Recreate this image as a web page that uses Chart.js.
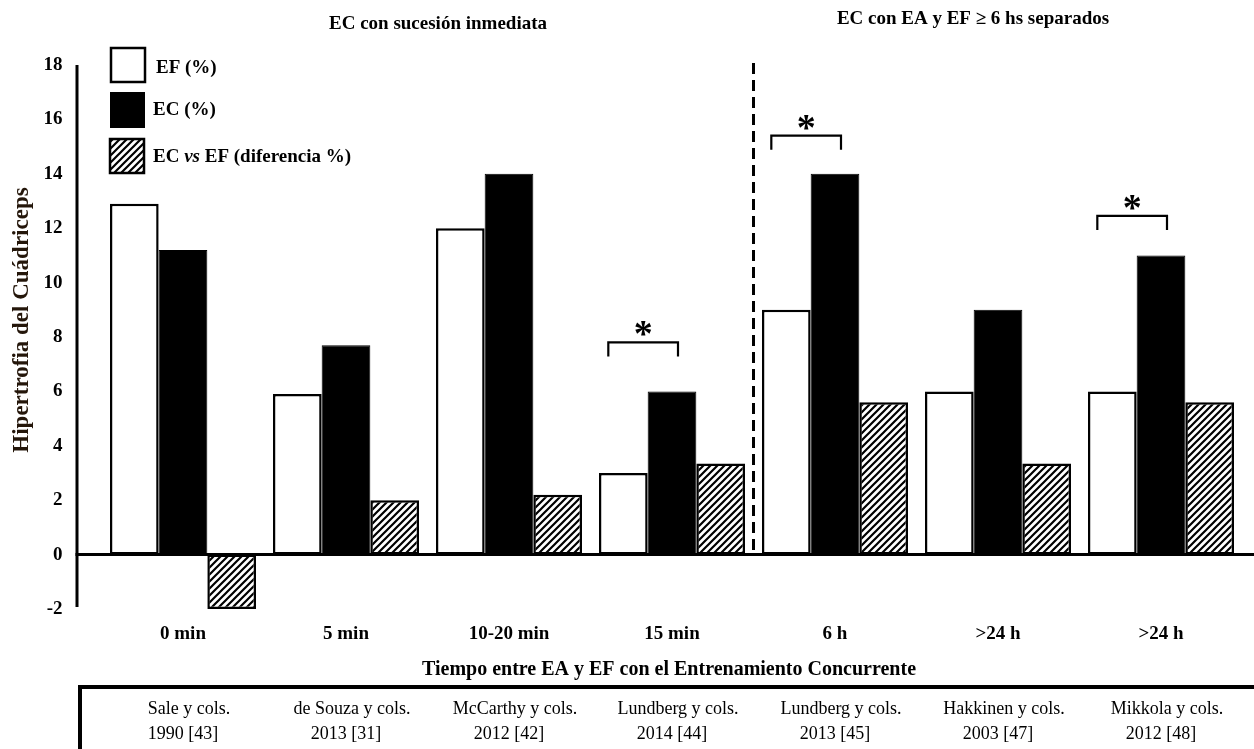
<!DOCTYPE html>
<html>
<head>
<meta charset="utf-8">
<script src="https://cdn.jsdelivr.net/npm/chart.js@4.4.0/dist/chart.umd.min.js"></script>
<style>
  body { margin: 0; background: #fff; }
</style>
</head>
<body>
<canvas id="chart" width="1254" height="749"></canvas>
<script>
  // datos
  const categories = ['0 min', '5 min', '10-20 min', '15 min', '6 h', '>24 h', '>24 h'];
  const efValues = [12.9, 5.9, 12.0, 3.0, 9.0, 6.0, 6.0];
  const ecValues = [11.2, 7.7, 14.0, 6.0, 14.0, 9.0, 11.0];
  const diffValues = [-2.0, 2.0, 2.2, 3.35, 5.6, 3.35, 5.6];
  const bracketLevels = [null, null, null, 7.8, 15.4, null, 12.45];
  const studies = ['Sale y cols.', 'de Souza y cols.', 'McCarthy y cols.', 'Lundberg y cols.', 'Lundberg y cols.', 'Hakkinen y cols.', 'Mikkola y cols.'];
  const studyYears = ['1990 [43]', '2013 [31]', '2012 [42]', '2014 [44]', '2013 [45]', '2003 [47]', '2012 [48]'];
  const yMin = -2, yMax = 18, yStep = 2;

  const FONT = '"Liberation Serif", "Times New Roman", serif';
  Chart.defaults.font.family = FONT;
  Chart.defaults.color = '#000';

  // patron de rayas diagonales
  function makeHatch() {
      const p = document.createElement('canvas');
      p.width = 7; p.height = 7;
      const g = p.getContext('2d');
      g.fillStyle = '#fff';
      g.fillRect(0, 0, 7, 7);
      g.strokeStyle = '#000';
      g.lineWidth = 2.2;
      g.beginPath();
      g.moveTo(-2, 9); g.lineTo(9, -2);
      g.moveTo(-6, 6); g.lineTo(6, -6);
      g.moveTo(1, 13); g.lineTo(13, 1);
      g.stroke();
      return g.createPattern(p, 'repeat');
  }
  const hatch = makeHatch();

  const decor = {
      id: 'decor',
      afterDatasetsDraw(chart) {
          const ctx = chart.ctx;
          const area = chart.chartArea;
          const xs = chart.scales.x, ys = chart.scales.y;
          const axisX = area.left - 24.5;
          const y0 = ys.getPixelForValue(0);
          ctx.save();
          ctx.strokeStyle = '#000';

          // eje y
          ctx.lineWidth = 3;
          ctx.beginPath();
          ctx.moveTo(axisX, ys.getPixelForValue(yMax));
          ctx.lineTo(axisX, ys.getPixelForValue(yMin) - 2);
          ctx.stroke();

          // linea del cero
          ctx.beginPath();
          ctx.moveTo(axisX - 1.5, y0);
          ctx.lineTo(chart.width, y0);
          ctx.stroke();

          // separador discontinuo
          const sepX = (xs.getPixelForValue(3) + xs.getPixelForValue(4)) / 2;
          ctx.setLineDash([11, 6]);
          ctx.beginPath();
          ctx.moveTo(sepX, 63);
          ctx.lineTo(sepX, y0);
          ctx.stroke();
          ctx.setLineDash([]);

          // corchetes de significancia
          const efMeta = chart.getDatasetMeta(0);
          const ecMeta = chart.getDatasetMeta(1);
          ctx.lineWidth = 2.2;
          ctx.fillStyle = '#000';
          bracketLevels.forEach((lvl, i) => {
              if (lvl === null) return;
              const by = ys.getPixelForValue(lvl);
              const x1 = efMeta.data[i].x - 15;
              const x2 = ecMeta.data[i].x + 6;
              ctx.beginPath();
              ctx.moveTo(x1, by + 14);
              ctx.lineTo(x1, by);
              ctx.lineTo(x2, by);
              ctx.lineTo(x2, by + 14);
              ctx.stroke();
              ctx.font = 'bold 38px ' + FONT;
              ctx.textAlign = 'center';
              ctx.textBaseline = 'middle';
              ctx.fillText('*', (x1 + x2) / 2, by - 6);
          });

          // leyenda
          ctx.lineWidth = 2.5;
          ctx.fillStyle = '#fff';
          ctx.fillRect(111, 48, 34, 34);
          ctx.strokeRect(111, 48, 34, 34);
          ctx.fillStyle = '#000';
          ctx.fillRect(110, 92, 35, 36);
          ctx.fillStyle = hatch;
          ctx.fillRect(110, 139, 34, 34);
          ctx.strokeRect(110, 139, 34, 34);

          ctx.fillStyle = '#000';
          ctx.textAlign = 'left';
          ctx.textBaseline = 'middle';
          ctx.font = 'bold 19px ' + FONT;
          ctx.fillText('EF (%)', 156, 68);
          ctx.fillText('EC (%)', 153, 110);
          let tx = 153;
          ctx.fillText('EC ', tx, 157);
          tx += ctx.measureText('EC ').width;
          ctx.font = 'bold italic 19px ' + FONT;
          ctx.fillText('vs', tx, 157);
          tx += ctx.measureText('vs').width;
          ctx.font = 'bold 19px ' + FONT;
          ctx.fillText(' EF (diferencia %)', tx, 157);

          // titulos de grupo
          ctx.textAlign = 'center';
          ctx.font = 'bold 19px ' + FONT;
          ctx.fillText('EC con sucesión inmediata', 438, 24);
          ctx.fillText('EC con EA y EF \u2265 6 hs separados', 973, 19);

          // titulo eje y
          ctx.save();
          ctx.translate(22, 320);
          ctx.rotate(-Math.PI / 2);
          ctx.fillStyle = '#24160a';
          ctx.font = 'bold 23px ' + FONT;
          ctx.fillText('Hipertrofia del Cuádriceps', 0, 0);
          ctx.restore();

          // titulo eje x
          ctx.font = 'bold 20px ' + FONT;
          ctx.fillText('Tiempo entre EA y EF con el Entrenamiento Concurrente', 669, 670);

          // tabla de estudios
          ctx.lineWidth = 4;
          ctx.beginPath();
          ctx.moveTo(80, chart.height + 5);
          ctx.lineTo(80, 687);
          ctx.lineTo(chart.width + 5, 687);
          ctx.stroke();
          ctx.font = '18px ' + FONT;
          studies.forEach((s, i) => {
              const cx = xs.getPixelForValue(i);
              ctx.fillText(s, cx + 6, 709);
              ctx.fillText(studyYears[i], cx, 734);
          });
          ctx.restore();
      }
  };

  new Chart(document.getElementById('chart'), {
      type: 'bar',
      data: {
          labels: categories,
          datasets: [
              {
                  label: 'EF (%)',
                  data: efValues,
                  backgroundColor: '#fff',
                  borderColor: '#000',
                  borderWidth: 2.5,
                  borderSkipped: false
              },
              {
                  label: 'EC (%)',
                  data: ecValues,
                  backgroundColor: '#000',
                  borderColor: '#000',
                  borderWidth: 1,
                  borderSkipped: false
              },
              {
                  label: 'EC vs EF (diferencia %)',
                  data: diffValues,
                  backgroundColor: hatch,
                  borderColor: '#000',
                  borderWidth: 2.5,
                  borderSkipped: false
              }
          ]
      },
      options: {
          responsive: false,
          animation: false,
          categoryPercentage: 0.896,
          barPercentage: 1.0,
          layout: { padding: { top: 65, right: 11.5, left: 0, bottom: 0 } },
          plugins: {
              legend: { display: false },
              title: { display: false },
              tooltip: { enabled: false }
          },
          scales: {
              x: {
                  grid: { display: false, drawTicks: false },
                  border: { display: false },
                  ticks: {
                      padding: 14,
                      font: { size: 19, weight: 'bold' },
                      maxRotation: 0,
                      autoSkip: false
                  },
                  afterFit(scale) { scale.height = 140; }
              },
              y: {
                  min: yMin,
                  max: yMax,
                  grid: { display: false, drawTicks: false },
                  border: { display: false },
                  ticks: {
                      stepSize: yStep,
                      padding: 39,
                      font: { size: 19, weight: 'bold' }
                  },
                  afterFit(scale) { scale.width = 101.5; }
              }
          }
      },
      plugins: [decor]
  });
</script>
</body>
</html>
